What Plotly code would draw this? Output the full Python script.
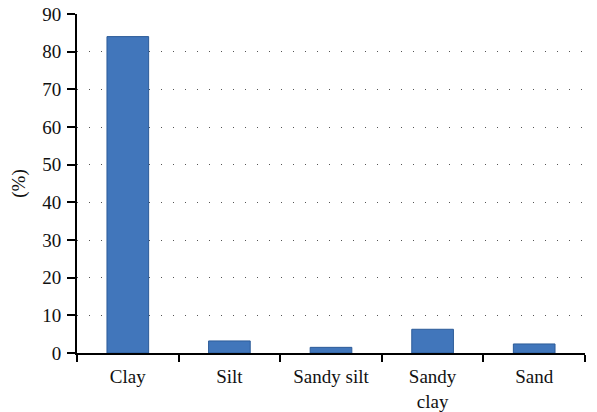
import plotly.graph_objects as go

categories = ["Clay", "Silt", "Sandy silt", "Sandy<br>clay", "Sand"]
values = [84, 3.2, 1.5, 6.3, 2.4]
y_ticks = [0, 10, 20, 30, 40, 50, 60, 70, 80, 90]

font_family = "Liberation Serif, DejaVu Serif, serif"

fig = go.Figure(
    go.Bar(
        x=categories,
        y=values,
        width=0.41,
        marker=dict(color="#4176BB", line=dict(color="#2D5C99", width=1)),
    )
)

fig.update_layout(
    width=597,
    height=412,
    margin=dict(l=77, r=12, t=14, b=59, autoexpand=False),
    paper_bgcolor="white",
    plot_bgcolor="white",
    showlegend=False,
    font=dict(family=font_family, size=19, color="#111111"),
)

fig.update_xaxes(
    automargin=False,
    showline=True,
    linecolor="black",
    linewidth=2,
    ticks="outside",
    tickson="boundaries",
    ticklen=7,
    tickwidth=2,
    tickcolor="black",
    showgrid=False,
    tickfont=dict(size=19),
    ticklabelstandoff=5,
    ticklabeloverflow="allow",
)

fig.update_yaxes(
    automargin=False,
    range=[0, 90],
    tickvals=y_ticks,
    showline=True,
    linecolor="black",
    linewidth=2,
    ticks="outside",
    ticklen=8,
    tickwidth=2,
    tickcolor="black",
    showgrid=True,
    gridcolor="#555555",
    gridwidth=1,
    griddash="1px,11px",
    zeroline=False,
    title=dict(text="(%)", font=dict(size=19), standoff=12),
    tickfont=dict(size=19),
    ticklabelstandoff=2,
    ticklabeloverflow="allow",
)

fig.write_html(
    "out.html",
    config={"displayModeBar": False},
    post_script="document.body.style.margin='0';document.body.style.overflow='hidden';",
)
